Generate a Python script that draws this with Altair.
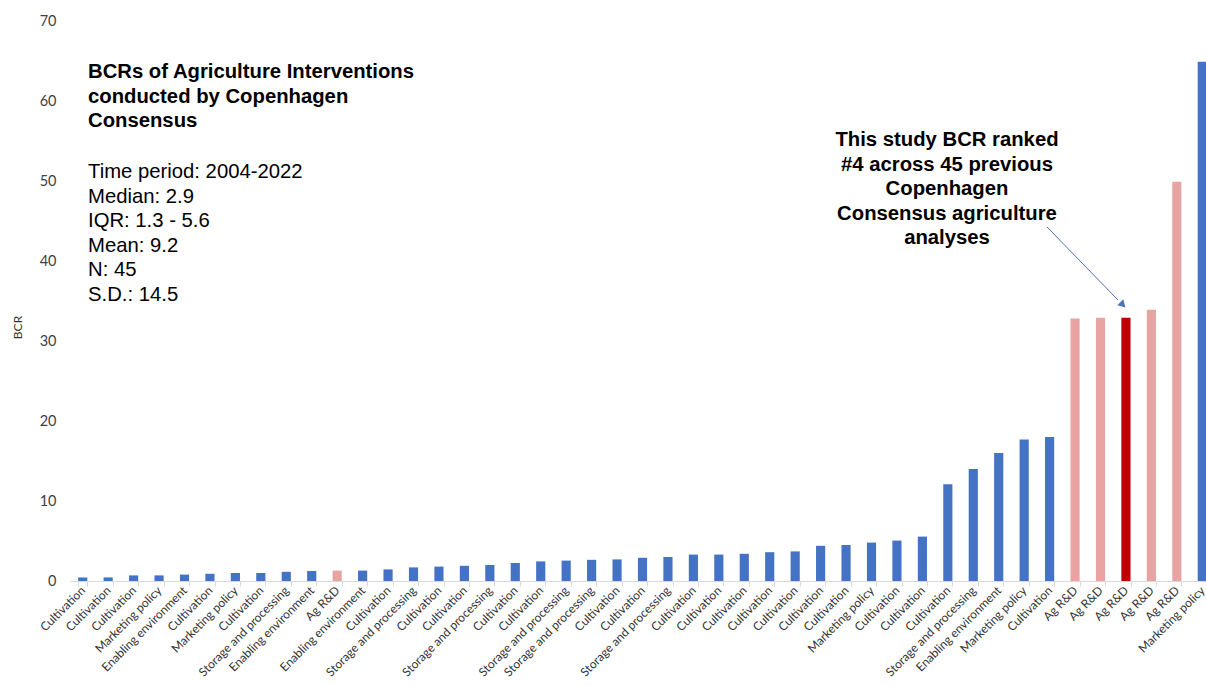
import altair as alt
import pandas as pd

labels = [
    "Cultivation", "Cultivation", "Cultivation", "Marketing policy", "Enabling environment",
    "Cultivation", "Marketing policy", "Cultivation", "Storage and processing", "Enabling environment",
    "Ag R&D", "Enabling environment", "Cultivation", "Storage and processing", "Cultivation",
    "Cultivation", "Storage and processing", "Cultivation", "Cultivation", "Storage and processing",
    "Storage and processing", "Cultivation", "Cultivation", "Storage and processing", "Cultivation",
    "Cultivation", "Cultivation", "Cultivation", "Cultivation", "Cultivation",
    "Cultivation", "Marketing policy", "Cultivation", "Cultivation", "Cultivation",
    "Storage and processing", "Enabling environment", "Marketing policy", "Cultivation", "Ag R&D",
    "Ag R&D", "Ag R&D", "Ag R&D", "Ag R&D", "Marketing policy",
]
bcr = [
    0.45, 0.45, 0.7, 0.7, 0.8, 0.9, 1.0, 1.0, 1.15, 1.25,
    1.3, 1.3, 1.45, 1.7, 1.8, 1.9, 2.0, 2.25, 2.45, 2.55,
    2.65, 2.7, 2.9, 3.0, 3.3, 3.3, 3.4, 3.6, 3.7, 4.4,
    4.5, 4.8, 5.05, 5.55, 12.1, 14.0, 16.0, 17.7, 18.0, 32.8,
    32.9, 32.9, 33.9, 49.9, 64.9,
]
this_study_rank_index = 41  # 0-based position of "this study"

groups = []
for i, lab in enumerate(labels):
    if i == this_study_rank_index:
        groups.append("This study")
    elif lab == "Ag R&D":
        groups.append("Ag R&D")
    else:
        groups.append("Other")

df = pd.DataFrame({
    "key": [f"{i:02d}|{lab}" for i, lab in enumerate(labels)],
    "BCR": bcr,
    "group": groups,
})

title_text = "BCRs of Agriculture Interventions\nconducted by Copenhagen\nConsensus"
stats_text = "Time period: 2004-2022\nMedian: 2.9\nIQR: 1.3 - 5.6\nMean: 9.2\nN: 45\nS.D.: 14.5"
note_text = "This study BCR ranked\n#4 across 45 previous\nCopenhagen\nConsensus agriculture\nanalyses"

bars = alt.Chart(df).mark_bar().encode(
    x=alt.X(
        "key:N",
        sort="ascending",
        title=None,
        scale=alt.Scale(range=[0, 1145], paddingInner=0.64, paddingOuter=0.32),
        axis=alt.Axis(
            labelExpr="split(datum.value, '|')[1]",
            labelAngle=-45,
            labelAlign="right",
            labelBaseline="middle",
            labelFont="Lato",
            labelFontSize=12,
            labelColor="#333333",
            labelPadding=2,
            tickBand="extent",
            tickColor="#D9D9D9",
            tickSize=5,
            domainColor="#D9D9D9",
            labelOverlap=False,
        ),
    ),
    y=alt.Y(
        "BCR:Q",
        title="BCR",
        scale=alt.Scale(domain=[0, 70], nice=False),
        axis=alt.Axis(
            values=[0, 10, 20, 30, 40, 50, 60, 70],
            grid=False,
            ticks=False,
            domain=False,
            labelFont="Lato",
            labelFontSize=14.5,
            labelColor="#404040",
            labelPadding=14,
            titleFont="Lato",
            titleFontSize=12,
            titleFontWeight="normal",
            titleColor="#333333",
            titleX=-46,
            titleY=306,
        ),
    ),
    color=alt.Color(
        "group:N",
        scale=alt.Scale(domain=["Other", "Ag R&D", "This study"],
                        range=["#4472C4", "#E8A3A3", "#C00000"]),
        legend=None,
    ),
)

one = pd.DataFrame({"t": [title_text], "s": [stats_text], "n": [note_text]})

title_mark = alt.Chart(one).mark_text(
    align="left", baseline="top", font="Liberation Sans", fontSize=20.3,
    fontWeight="bold", lineBreak="\n", lineHeight=24.5, color="#000000",
).encode(x=alt.value(18), y=alt.value(41), text="t:N")

stats_mark = alt.Chart(one).mark_text(
    align="left", baseline="top", font="Liberation Sans", fontSize=20.3,
    lineBreak="\n", lineHeight=24.5, color="#000000",
).encode(x=alt.value(18), y=alt.value(141), text="s:N")

note_mark = alt.Chart(one).mark_text(
    align="center", baseline="top", font="Liberation Sans", fontSize=20.3,
    fontWeight="bold", lineBreak="\n", lineHeight=24.5, color="#000000",
).encode(x=alt.value(877), y=alt.value(109), text="n:N")

arrow_line = alt.Chart(one).mark_rule(color="#4F72B8", strokeWidth=1).encode(
    x=alt.value(977), y=alt.value(206), x2=alt.value(1048), y2=alt.value(279)
)
arrow_head = alt.Chart(one).mark_point(
    shape="triangle", filled=True, color="#4F72B8", size=70, angle=136, opacity=1
).encode(x=alt.value(1052), y=alt.value(283))

chart = alt.layer(bars, title_mark, stats_mark, note_mark, arrow_line, arrow_head).properties(
    width=1136,
    height=560,
    autosize=alt.AutoSizeParams(type="none"),
    padding={"left": 70, "top": 21, "right": 0, "bottom": 105},
).configure(background="white").configure_view(stroke=None)

chart.save("out.html", embed_options={"renderer": "svg", "actions": False})
